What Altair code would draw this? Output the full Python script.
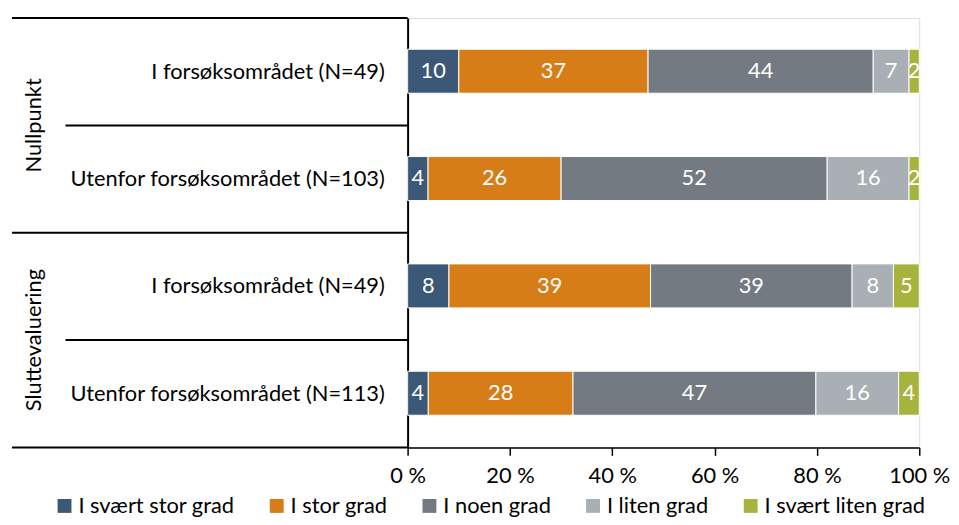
import altair as alt
import pandas as pd

rows = ["I forsøksområdet (N=49)", "Utenfor forsøksområdet (N=103)",
        "I forsøksområdet (N=49)", "Utenfor forsøksområdet (N=113)"]
groups = ["Nullpunkt", "Sluttevaluering"]
categories = ["I svært stor grad", "I stor grad", "I noen grad", "I liten grad", "I svært liten grad"]
colors = ["#3B5876", "#D77D17", "#737A81", "#A9AFB5", "#A6B43D"]
values = [
    [10, 37, 44, 7, 2],
    [4, 26, 52, 16, 2],
    [8, 39, 39, 8, 5],
    [4, 28, 47, 16, 4],
]
tick_values = [0, 0.2, 0.4, 0.6, 0.8, 1.0]

recs = []
for r, vals in enumerate(values):
    for c, v in enumerate(vals):
        recs.append({"row": r, "label": rows[r], "cat": categories[c], "order": c, "value": v})
df = pd.DataFrame(recs)

rowdf = pd.DataFrame({"row": list(range(len(rows))), "label": rows})
groupdf = pd.DataFrame({"group": groups, "gi": [0, 1]})
# separator lines: full ones at group boundaries, short ones inside groups
linedf = pd.DataFrame({"pos": [0, 1, 2, 3, 4], "full": [1, 0, 1, 0, 1]})

FONT = "Lato"
FS = 22
W, H = 516, 433

yscale = alt.Scale(domain=[0, 4], reverse=True, nice=False, zero=False)
xscale = alt.Scale(domain=[0, 1], nice=False)

base = alt.Chart(df).transform_joinaggregate(
    total="sum(value)", groupby=["row"]
).transform_window(
    cum="sum(value)", groupby=["row"], sort=[alt.SortField("order")], frame=[None, 0]
).transform_calculate(
    start="(datum.cum - datum.value) / datum.total",
    end="datum.cum / datum.total",
    mid="(datum.cum - datum.value / 2) / datum.total",
    y0="datum.row + 0.29",
    y1="datum.row + 0.70",
    yc="datum.row + 0.495",
)

bars = base.mark_bar(stroke="white", strokeWidth=1).encode(
    x=alt.X("start:Q", scale=xscale,
            axis=alt.Axis(values=tick_values, labelExpr="round(datum.value*100) + ' %'",
                          title=None, grid=False, domainColor="black", domainWidth=1.5,
                          tickColor="black", tickSize=8, tickWidth=1.5,
                          labelFont=FONT, labelFontSize=FS, labelColor="black",
                          labelPadding=10, labelFlush=False, labelOverlap=False)),
    x2="end:Q",
    y=alt.Y("y0:Q", scale=yscale,
            axis=alt.Axis(labels=False, ticks=False, grid=False, title=None,
                          domainColor="black", domainWidth=2)),
    y2="y1:Q",
    color=alt.Color("cat:N", scale=alt.Scale(domain=categories, range=colors),
                    legend=alt.Legend(title=None, orient="none", direction="horizontal",
                                      legendX=-357, legendY=H + 48,
                                      symbolType="square", symbolSize=196,
                                      symbolStrokeWidth=0, symbolOpacity=1,
                                      labelFont=FONT, labelFontSize=FS, labelColor="black",
                                      labelLimit=400,
                                      columnPadding=31, labelOffset=3)),
    order=alt.Order("order:Q"),
)

texts = base.mark_text(color="white", font=FONT, fontSize=FS, baseline="middle").encode(
    x=alt.X("mid:Q", scale=xscale),
    y=alt.Y("yc:Q", scale=yscale),
    text=alt.Text("value:Q"),
)

rowlabels = alt.Chart(rowdf).transform_calculate(yc="datum.row + 0.5").mark_text(
    align="right", baseline="middle", font=FONT, fontSize=FS, color="black"
).encode(
    x=alt.value(-23),
    y=alt.Y("yc:Q", scale=yscale),
    text="label:N",
)

grouplabels = alt.Chart(groupdf).transform_calculate(yc="datum.gi * 2 + 1").mark_text(
    angle=270, align="center", baseline="middle", font=FONT, fontSize=FS, color="black"
).encode(
    x=alt.value(-377),
    y=alt.Y("yc:Q", scale=yscale),
    text="group:N",
)

fulllines = alt.Chart(linedf).transform_filter("datum.full == 1").mark_rule(
    color="black", strokeWidth=2
).encode(
    x=alt.value(-399), x2=alt.value(0),
    y=alt.Y("pos:Q", scale=yscale),
)
shortlines = alt.Chart(linedf).transform_filter("datum.full == 0").mark_rule(
    color="black", strokeWidth=2
).encode(
    x=alt.value(-345), x2=alt.value(0),
    y=alt.Y("pos:Q", scale=yscale),
)

chart = alt.layer(bars, texts, rowlabels, grouplabels, fulllines, shortlines).properties(
    width=W, height=H,
    autosize=alt.AutoSizeParams(type="none"),
    padding={"left": 403, "top": 8, "right": 32, "bottom": 68},
).configure_view(stroke=None).configure(background="white")

chart.save("out.html", embed_options={"renderer": "svg", "actions": False})
